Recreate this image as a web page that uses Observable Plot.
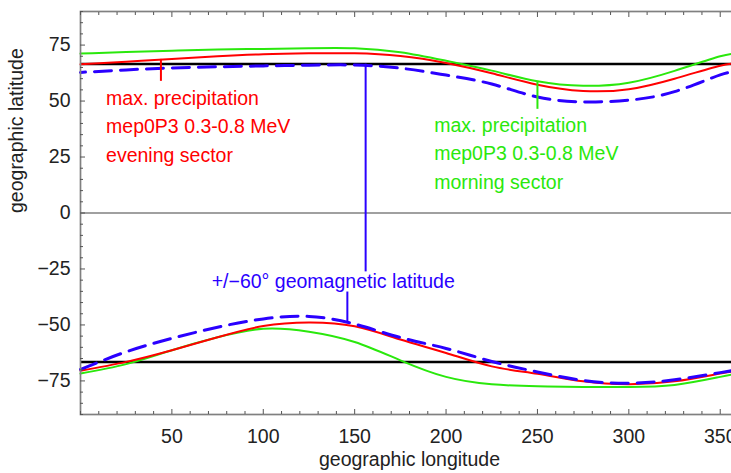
<!DOCTYPE html>
<html>
<head>
<meta charset="utf-8">
<script src="https://cdn.jsdelivr.net/npm/d3@7"></script>
<script src="https://cdn.jsdelivr.net/npm/@observablehq/plot@0.6"></script>
<style>
html, body { margin: 0; padding: 0; background: #fff; overflow: hidden; width: 731px; height: 473px; }
#chart svg { max-width: none !important; display: block; }
</style>
</head>
<body>
<div id="chart"></div>
<script>
// geographic longitude samples
const lon = [0, 25, 50, 75, 100, 125, 150, 175, 200, 225, 250, 275, 300, 325, 350, 360];

// northern boundaries (geographic latitude)
const morningNorth = [71.2, 71.9, 72.5, 73.0, 73.3, 73.6, 73.6, 71.8, 68.0, 63.6, 58.8, 56.8, 58.2, 63.5, 70.0, 71.3];
const eveningNorth = [66.4, 67.6, 68.8, 70.0, 70.9, 71.3, 71.3, 70.1, 67.0, 62.4, 57.3, 54.5, 55.3, 60.0, 65.8, 66.6];
const geomagNorth  = [62.8, 63.9, 64.8, 65.3, 65.7, 66.0, 66.1, 64.7, 61.6, 57.6, 51.8, 49.6, 50.4, 54.2, 61.7, 62.8];

// southern boundaries (geographic latitude)
const morningSouth = [-71.7, -67.5, -61.3, -55.5, -51.7, -53.0, -57.6, -65.8, -73.2, -76.5, -77.4, -77.7, -77.7, -76.8, -73.2, -71.7];
const eveningSouth = [-70.5, -66.5, -61.3, -55.5, -50.5, -48.9, -50.6, -56.5, -62.5, -68.5, -71.8, -75.2, -76.5, -75.2, -71.7, -70.5];
const geomagSouth  = [-69.9, -62.0, -56.0, -51.0, -47.3, -46.2, -49.6, -55.6, -60.5, -66.3, -71.0, -74.8, -76.0, -74.5, -71.3, -70.0];

// polar circles
const polarCircles = [66.5, -66.5];

// ticks
const xMajor = [50, 100, 150, 200, 250, 300, 350];
const xMinor = [0, 10, 20, 30, 40, 60, 70, 80, 90, 110, 120, 130, 140, 160, 170, 180, 190, 210, 220, 230, 240, 260, 270, 280, 290, 310, 320, 330, 340, 360];
const yMajor = [75, 50, 25, 0, -25, -50, -75];
const yMinor = [90, 85, 80, 70, 65, 60, 55, 45, 40, 35, 30, 20, 15, 10, 5, -5, -10, -15, -20, -30, -35, -40, -45, -55, -60, -65, -70, -80, -85, -90];

// annotations
const eveningText = ["max. precipitation", "mep0P3 0.3-0.8 MeV", "evening sector"];
const morningText = ["max. precipitation", "mep0P3 0.3-0.8 MeV", "morning sector"];
const geomagText = "+/\u221260\u00b0 geomagnetic latitude";
const eveningPointer = {lon: 44, top: 68.6, bottom: 58.8};
const morningPointer = {lon: 250, top: 58.8, bottom: 46.3};
const geomagPointers = [{lon: 156, top: 66.5, bottom: -26.3}, {lon: 146, top: -35.3, bottom: -48.7}];
const eveningAnchor = {lon: 14, lat: 39.6};
const morningAnchor = {lon: 193.5, lat: 27.5};
const geomagAnchor = {lon: 71.8, lat: -30.6};

const RED = "#ff0000";
const GREEN = "#2ae80c";
const BLUE = "#2a00ff";
const AXIS = "#808080";

const rows = (vals) => lon.map((x, i) => ({lon: x, lat: vals[i]}));
const fmt = d => d < 0 ? "\u2212" + (-d) : String(d);

const chart = Plot.plot({
  width: 760,
  height: 473,
  marginLeft: 80,
  marginRight: 22,
  marginTop: 11,
  marginBottom: 59,
  style: {fontSize: "19.5px", fontFamily: "'Liberation Sans', Arial, Helvetica, sans-serif", color: "#222", background: "#fff", maxWidth: "none"},
  x: {domain: [0, 360]},
  y: {domain: [-90, 90]},
  marks: [
    Plot.ruleY([0], {stroke: AXIS, strokeWidth: 1.3}),
    Plot.ruleY(polarCircles, {stroke: "#000", strokeWidth: 2.5}),
    Plot.line(rows(morningNorth), {x: "lon", y: "lat", stroke: GREEN, strokeWidth: 2, curve: "natural"}),
    Plot.line(rows(morningSouth), {x: "lon", y: "lat", stroke: GREEN, strokeWidth: 2, curve: "natural"}),
    Plot.line(rows(eveningNorth), {x: "lon", y: "lat", stroke: RED, strokeWidth: 2, curve: "natural"}),
    Plot.line(rows(eveningSouth), {x: "lon", y: "lat", stroke: RED, strokeWidth: 2, curve: "natural"}),
    Plot.line(rows(geomagNorth), {x: "lon", y: "lat", stroke: BLUE, strokeWidth: 3, strokeDasharray: "17,9", strokeDashoffset: -14, curve: "natural"}),
    Plot.line(rows(geomagSouth), {x: "lon", y: "lat", stroke: BLUE, strokeWidth: 3, strokeDasharray: "17,9", curve: "natural"}),
    // pointers
    Plot.ruleX([eveningPointer], {x: "lon", y1: "top", y2: "bottom", stroke: RED, strokeWidth: 2}),
    Plot.ruleX([morningPointer], {x: "lon", y1: "top", y2: "bottom", stroke: GREEN, strokeWidth: 2}),
    Plot.ruleX(geomagPointers, {x: "lon", y1: "top", y2: "bottom", stroke: BLUE, strokeWidth: 2}),
    // annotation texts
    Plot.text([eveningText.join("\n")], {x: () => eveningAnchor.lon, y: () => eveningAnchor.lat, text: d => d, textAnchor: "start", lineHeight: 1.45, fill: RED}),
    Plot.text([morningText.join("\n")], {x: () => morningAnchor.lon, y: () => morningAnchor.lat, text: d => d, textAnchor: "start", lineHeight: 1.45, fill: GREEN}),
    Plot.text([geomagText], {x: () => geomagAnchor.lon, y: () => geomagAnchor.lat, text: d => d, textAnchor: "start", fill: BLUE}),
    // frame
    Plot.frame({stroke: AXIS, strokeWidth: 1.7}),
    // x ticks (bottom & top, inward)
    Plot.axisX(xMajor, {anchor: "bottom", tickSize: -5, tickFormat: () => "", stroke: "#555", label: null}),
    Plot.axisX(xMinor, {anchor: "bottom", tickSize: -3, tickFormat: () => "", stroke: "#555", label: null}),
    Plot.axisX(xMajor, {anchor: "top", tickSize: -5, tickFormat: () => "", stroke: "#555", label: null}),
    Plot.axisX(xMinor, {anchor: "top", tickSize: -3, tickFormat: () => "", stroke: "#555", label: null}),
    Plot.axisX(xMajor, {anchor: "bottom", tickSize: 0, tickPadding: 15, label: null, fill: "#222"}),
    // y ticks (left, inward)
    Plot.axisY(yMajor, {anchor: "left", tickSize: -5, tickFormat: () => "", stroke: "#555", label: null}),
    Plot.axisY(yMinor, {anchor: "left", tickSize: -3, tickFormat: () => "", stroke: "#555", label: null}),
    Plot.axisY(yMajor, {anchor: "left", tickSize: 0, tickPadding: 10, tickFormat: fmt, label: null, fill: "#222"}),
    // axis titles
    Plot.text(["geographic longitude"], {frameAnchor: "bottom", lineAnchor: "bottom", dy: 51, fill: "#222"}),
    Plot.text(["geographic latitude"], {frameAnchor: "left", lineAnchor: "bottom", rotate: -90, dx: -57.5, fill: "#222"})
  ]
});
document.getElementById("chart").appendChild(chart);
</script>
</body>
</html>
